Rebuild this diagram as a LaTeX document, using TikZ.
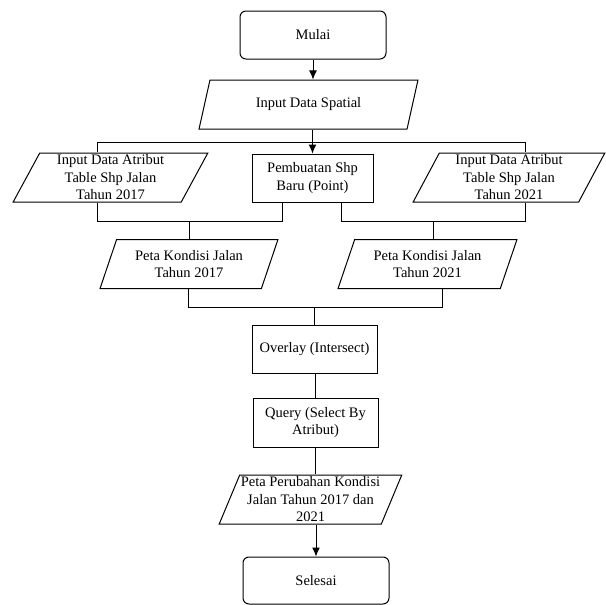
\documentclass[tikz,border=0pt]{standalone}
\usepackage{fontspec}
\setmainfont{Liberation Serif}
\usetikzlibrary{shapes,arrows,arrows.meta,positioning,calc}

\tikzset{
  terminal/.style={draw,rounded corners=6pt,minimum width=146pt,minimum height=48pt,inner sep=0pt},
  proses/.style={draw,rectangle,minimum width=#1,minimum height=48pt,inner sep=0pt,align=center},
  dataio/.style={draw,trapezium,trapezium left angle=66,trapezium right angle=114,%
    trapezium stretches=true,minimum width=#1,minimum height=49pt,inner sep=0pt,align=center},
}

\begin{document}
\begin{tikzpicture}[x=1pt,y=-1pt,line width=1pt,>={Latex[length=9pt,width=8pt]},%
  font=\fontsize{14.5}{17.5}\selectfont]
      \useasboundingbox (0,0) rectangle (605,605);

      \coordinate (bagiL) at (97,142);
      \coordinate (bagiR) at (525,142);
      \coordinate (gabL1) at (97,221);
      \coordinate (gabL2) at (282,221);
      \coordinate (gabR1) at (341,221);
      \coordinate (gabR2) at (525,221);
      \coordinate (gabR) at (433,221);
      \coordinate (gab1) at (188,307);
      \coordinate (gab2) at (442,307);

      \node[terminal] (mulai) at (313,35) {Mulai};
      \node[dataio=219pt] (spatial) at (308.5,104.5) {Input Data Spatial};
      \node[dataio=195pt] (atrib17) at (110.5,177.5) {Input Data Atribut\\Table Shp Jalan\\Tahun 2017};
      \node[proses=121pt] (shpbaru) at (312.5,178) {Pembuatan Shp\\Baru (Point)};
      \node[dataio=192pt] (atrib21) at (509,177.5) {Input Data Atribut\\Table Shp Jalan\\Tahun 2021};
      \node[dataio=178pt] (kondisi17) at (189,264) {Peta Kondisi Jalan\\Tahun 2017};
      \node[dataio=179pt] (kondisi21) at (427.5,264) {Peta Kondisi Jalan\\Tahun 2021};
      \node[proses=125pt] (overlay) at (314.5,349) {Overlay (Intersect)};
      \node[proses=125pt,minimum height=49pt] (query) at (315.5,422.5) {Query (Select By\\Atribut)};
      \node[dataio=183pt] (perubahan) at (310.5,499.5) {Peta Perubahan Kondisi\\Jalan Tahun 2017 dan\\2021};
      \node[terminal,minimum height=47pt] (selesai) at (316,580.5) {Selesai};

      \draw[->] (mulai.south) -- (mulai.south |- spatial.north);
      \draw[->] (shpbaru.north |- spatial.south) -- (shpbaru.north);
      \draw (bagiL |- atrib17.north) -- (bagiL) -- (bagiR) -- (bagiR |- atrib21.north);

      \draw (gabL1 |- atrib17.south) -- (gabL1) -- (gabL2) -- (gabL2 |- shpbaru.south);
      \draw (kondisi17.north) -- (kondisi17.north |- gabL1);
      \draw (gabR1 |- shpbaru.south) -- (gabR1) -- (gabR2) -- (gabR2 |- atrib21.south);
      \draw (gabR) -- (gabR |- kondisi21.north);

      \draw (gab1 |- kondisi17.south) -- (gab1) -- (gab2) -- (gab2 |- kondisi21.south);
      \draw (overlay.north) -- (overlay.north |- gab1);
      \draw (query.north) -- (query.north |- overlay.south);
      \draw (query.south) -- (query.south |- perubahan.north);
      \draw[->] (selesai.north |- perubahan.south) -- (selesai.north);

    \end{tikzpicture}
\end{document}
